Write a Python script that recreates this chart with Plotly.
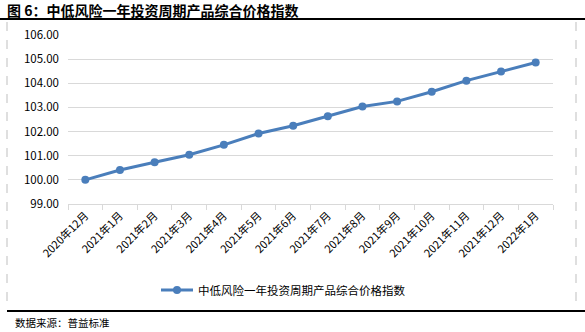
import plotly.graph_objects as go

categories = ["2020年12月", "2021年1月", "2021年2月", "2021年3月", "2021年4月", "2021年5月",
              "2021年6月", "2021年7月", "2021年8月", "2021年9月", "2021年10月", "2021年11月",
              "2021年12月", "2022年1月"]
values = [100.00, 100.41, 100.73, 101.04, 101.45, 101.92, 102.24, 102.63, 103.04, 103.25,
          103.65, 104.11, 104.49, 104.86]
series_name = "中低风险一年投资周期产品综合价格指数"
title_text = "图 6：中低风险一年投资周期产品综合价格指数"
source_text = "数据来源：普益标准"
y_ticks = [99, 100, 101, 102, 103, 104, 105, 106]

W, H = 585, 332
ml, mr, mt, mb = 68, 32, 35, 128
pw, ph = W - ml - mr, H - mt - mb

def px(x):
    return (x - ml) / pw

def py(y):
    return (H - mb - y) / ph

font = "Noto Sans CJK SC, Microsoft YaHei, sans-serif"
color = "#4a7ebb"

fig = go.Figure()
fig.add_trace(go.Scatter(
    x=categories, y=values, name=series_name, mode="lines+markers",
    line=dict(color=color, width=3), marker=dict(color=color, size=8),
))

fig.update_layout(
    width=W, height=H,
    margin=dict(l=ml, r=mr, t=mt, b=mb),
    paper_bgcolor="white", plot_bgcolor="white",
    font=dict(family=font, size=11, color="#000000"),
    showlegend=True,
    legend=dict(x=px(156), xanchor="left", y=py(290), yanchor="middle",
                orientation="h", font=dict(size=11.5), bgcolor="rgba(0,0,0,0)",
                itemwidth=32),
    xaxis=dict(type="category", showgrid=False, showline=True, linecolor="#d9d9d9",
               ticks="outside", tickson="boundaries", ticklen=5, tickcolor="#d9d9d9",
               tickangle=-45, tickfont=dict(size=11), range=[-0.5, len(categories) - 0.5]),
    yaxis=dict(range=[99, 106], tickvals=y_ticks, tickformat=".2f", showgrid=True,
               gridcolor="#d9d9d9", gridwidth=1, zeroline=False, showline=False,
               tickfont=dict(size=11.5), ticks="", ticklabelstandoff=8),
)

shapes = [
    dict(type="line", xref="paper", yref="paper", x0=px(0), x1=px(W), y0=py(19), y1=py(19),
         line=dict(color="black", width=2)),
    dict(type="line", xref="paper", yref="paper", x0=px(7), x1=px(W), y0=py(311), y1=py(311),
         line=dict(color="black", width=2)),
    dict(type="line", xref="paper", yref="paper", x0=px(7), x1=px(7), y0=py(22), y1=py(310),
         line=dict(color="#bfbfbf", width=1, dash="dash")),
    dict(type="line", xref="paper", yref="paper", x0=px(576), x1=px(576), y0=py(22), y1=py(310),
         line=dict(color="#bfbfbf", width=1, dash="dash")),
]
fig.update_layout(shapes=shapes)

fig.add_annotation(text="<b>" + title_text + "</b>", xref="paper", yref="paper",
                   x=px(5), y=py(10), xanchor="left", yanchor="middle", showarrow=False,
                   font=dict(size=14, family=font))
fig.add_annotation(text=source_text, xref="paper", yref="paper",
                   x=px(13), y=py(322), xanchor="left", yanchor="middle", showarrow=False,
                   font=dict(size=10.5, family=font))

fig.write_html("out.html")
